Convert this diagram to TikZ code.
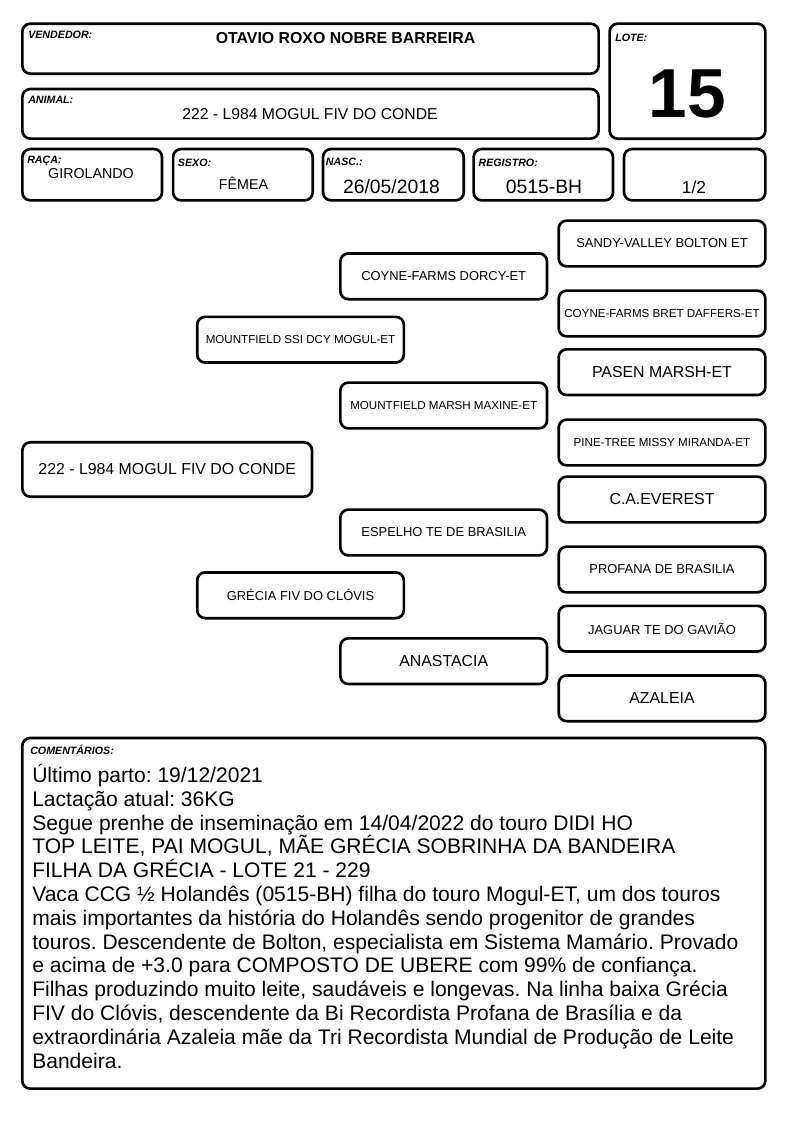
\documentclass[tikz,border=0pt]{standalone}
\usepackage{fontspec}
\setmainfont{Liberation Sans}
\frenchspacing
\begin{document}
\begin{tikzpicture}[x=0.75pt, y=-0.75pt,
	caixa/.style={draw, line width=2pt, rounded corners=6pt, inner sep=0pt},
	rotulo/.style={anchor=north west, inner sep=0pt, font=\bfseries\itshape\fontsize{8}{9}\selectfont},
	valor/.style={anchor=base, inner sep=0pt},
	ped/.style={caixa, minimum width=155pt, minimum height=34.3pt, align=center},
	pmini/.style={font=\fontsize{8.7}{10}\selectfont},
	pmed/.style={font=\fontsize{9.7}{11}\selectfont},
	pgr/.style={font=\fontsize{11.9}{14}\selectfont}]
	\useasboundingbox (0,0) rectangle (794,1123);
	
	\node [caixa, minimum width=432.2pt, minimum height=37.5pt] (vend) at (310.5,48.7) {};
	\node [rotulo] (vendrot) at (28,31) {VENDEDOR:};
	\node [valor, font=\bfseries\fontsize{11.9}{14}\selectfont] (vendval) at (345.5,43.3) {OTAVIO ROXO NOBRE BARREIRA};
	
	\node [caixa, minimum width=432.2pt, minimum height=37.2pt] (animal) at (310.5,113.8) {};
	\node [rotulo] (animalrot) at (28,95.7) {ANIMAL:};
	\node [valor, font=\fontsize{11.8}{14}\selectfont] (animalval) at (310,119.3) {222 - L984 MOGUL FIV DO CONDE};
	
	\node [caixa, minimum width=116.8pt, minimum height=86.3pt] (lote) at (687.5,81.2) {};
	\node [rotulo] (loterot) at (615,33.3) {LOTE:};
	\node [valor, font=\bfseries\fontsize{52}{56}\selectfont] (loteval) at (687.5,118) {15};
	
	\node [caixa, minimum width=104.7pt, minimum height=38.5pt] (raca) at (92.2,174.7) {};
	\node [rotulo] (racarot) at (27,155.5) {RAÇA:};
	\node [valor, font=\fontsize{10.7}{13}\selectfont] (racaval) at (91,178.3) {GIROLANDO};
	
	\node [caixa, minimum width=104.7pt, minimum height=38.5pt] (sexo) at (242.9,174.7) {};
	\node [rotulo] (sexorot) at (177.7,158.3) {SEXO:};
	\node [valor, font=\fontsize{10.7}{13}\selectfont] (sexoval) at (243.5,190) {FÊMEA};
	
	\node [caixa, minimum width=105.5pt, minimum height=38.5pt] (nasc) at (393.4,174.7) {};
	\node [rotulo] (nascrot) at (325.7,158) {NASC.:};
	\node [valor, font=\fontsize{14.5}{17}\selectfont] (nascval) at (391.5,193.3) {26/05/2018};
	
	\node [caixa, minimum width=104.5pt, minimum height=38.5pt] (reg) at (543.3,174.7) {};
	\node [rotulo] (regrot) at (478.3,158.3) {REGISTRO:};
	\node [valor, font=\fontsize{14.5}{17}\selectfont] (regval) at (544,193.3) {0515-BH};
	
	\node [caixa, minimum width=106pt, minimum height=38.5pt] (fracao) at (694.7,174.7) {};
	\node [valor, font=\fontsize{13}{15}\selectfont] (fracaoval) at (694,193.3) {1/2};
	
	\node [caixa, pgr, minimum width=217.2pt, minimum height=40.8pt] (animalped) at (167.2,469.5) {222 - L984 MOGUL FIV DO CONDE};
	
	\node [ped, pmini] (pai) at (300.5,339.7) {MOUNTFIELD SSI DCY MOGUL-ET};
	\node [ped, pmed] (mae) at (300.5,595.3) {GRÉCIA FIV DO CLÓVIS};
	
	\node [ped, pmed] (avopp) at (443.7,276.3) {COYNE-FARMS DORCY-ET};
	\node [ped, pmini] (avomp) at (443.7,405.5) {MOUNTFIELD MARSH MAXINE-ET};
	\node [ped, pmed] (avopm) at (443.7,532.5) {ESPELHO TE DE BRASILIA};
	\node [ped, pgr] (avomm) at (443.7,661.2) {ANASTACIA};
	
	\node [ped, pmed] (bis1) at (662,243.5) {SANDY-VALLEY BOLTON ET};
	\node [ped, pmini] (bis2) at (662,313.5) {COYNE-FARMS BRET DAFFERS-ET};
	\node [ped, pgr] (bis3) at (662,372.2) {PASEN MARSH-ET};
	\node [ped, pmini] (bis4) at (662,442.5) {PINE-TREE MISSY MIRANDA-ET};
	\node [ped, pgr] (bis5) at (662,499.5) {C.A.EVEREST};
	\node [ped, pmed] (bis6) at (662,569.5) {PROFANA DE BRASILIA};
	\node [ped, pmed] (bis7) at (662,628.7) {JAGUAR TE DO GAVIÃO};
	\node [ped, pgr] (bis8) at (662,698.3) {AZALEIA};
	
	\node [caixa, minimum width=557.3pt, minimum height=263pt] (coment) at (393.8,913.3) {};
	\node [rotulo] (comentrot) at (30,745) {COMENTÁRIOS:};
	\node [anchor=north west, inner sep=0pt, align=left, font=\fontsize{15.8}{17.85}\selectfont] (comenttxt) at (32,764) {Último parto: 19/12/2021\\
		Lactação atual: 36KG\\
		Segue prenhe de inseminação em 14/04/2022 do touro DIDI HO\\
		TOP LEITE, PAI MOGUL, MÃE GRÉCIA SOBRINHA DA BANDEIRA\\
		FILHA DA GRÉCIA - LOTE 21 - 229\\
		Vaca CCG ½ Holandês (0515-BH) filha do touro Mogul-ET, um dos touros\\
		mais importantes da história do Holandês sendo progenitor de grandes\\
		touros. Descendente de Bolton, especialista em Sistema Mamário. Provado\\
		e acima de +3.0 para COMPOSTO DE UBERE com 99\% de confiança.\\
		Filhas produzindo muito leite, saudáveis e longevas. Na linha baixa Grécia\\
		FIV do Clóvis, descendente da Bi Recordista Profana de Brasília e da\\
		extraordinária Azaleia mãe da Tri Recordista Mundial de Produção de Leite\\
		Bandeira.};
\end{tikzpicture}
\end{document}
